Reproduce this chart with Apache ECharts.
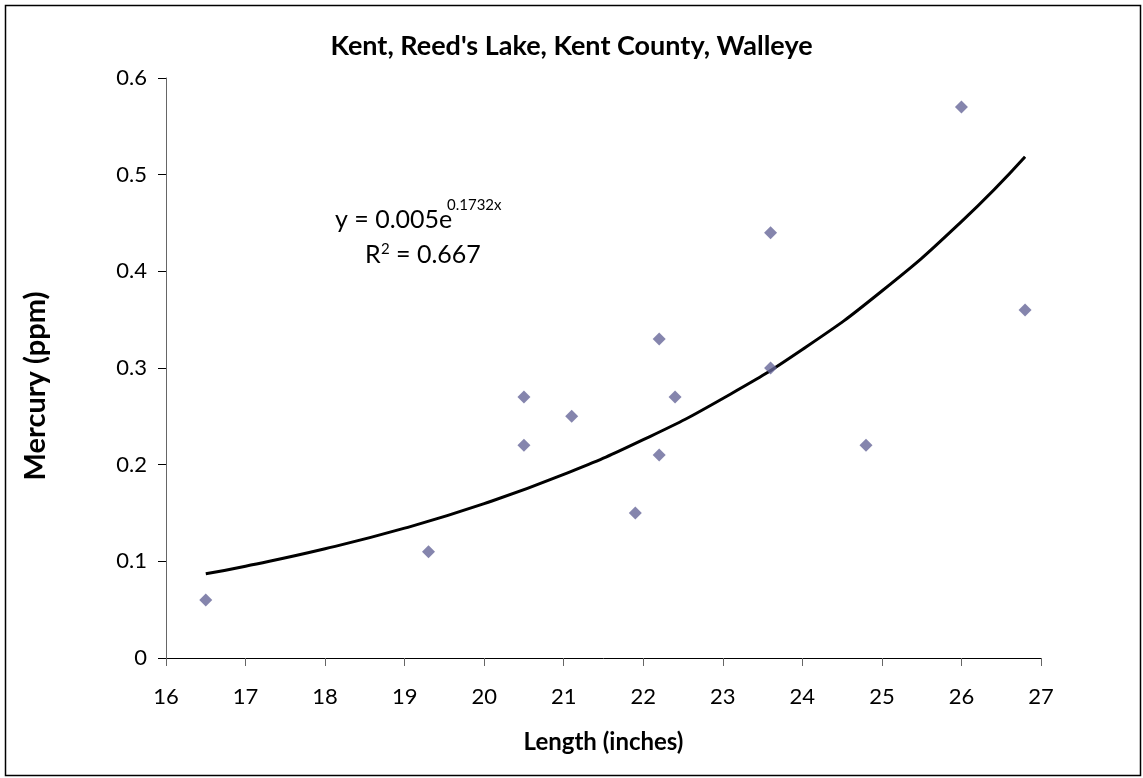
<!DOCTYPE html>
<html>
<head>
<meta charset="utf-8">
<script src="https://cdn.jsdelivr.net/npm/echarts@6/dist/echarts.min.js"></script>
<style>
html,body{margin:0;padding:0;background:#fff;}
#chart{width:1143px;height:778px;}
</style>
</head>
<body>
<div id="chart"></div>
<script>
const titleText = "Kent, Reed's Lake, Kent County, Walleye";
const xAxisName = "Length (inches)";
const yAxisName = "Mercury (ppm)";
const lengths = [16.5, 19.3, 20.5, 20.5, 21.1, 21.9, 22.2, 22.2, 22.4, 23.6, 23.6, 24.8, 26.0, 26.8];
const mercury = [0.06, 0.11, 0.27, 0.22, 0.25, 0.15, 0.33, 0.21, 0.27, 0.44, 0.30, 0.22, 0.57, 0.36];
// trendline values read along the fitted curve y = 0.005e^(0.1732x)
const trendX = [16.5, 17, 18, 19, 20, 21, 22, 23, 24, 25, 26, 26.8];
const trendY = [0.0871, 0.0950, 0.1130, 0.1343, 0.1597, 0.1899, 0.2258, 0.2685, 0.3192, 0.3797, 0.4515, 0.5186];
const xTicks = [16, 17, 18, 19, 20, 21, 22, 23, 24, 25, 26, 27];
const yTicks = [0, 0.1, 0.2, 0.3, 0.4, 0.5, 0.6];
const eqMain = "y = 0.005e";
const eqSup = "0.1732x";
const r2Base = "R";
const r2Sup = "2";
const r2Rest = "= 0.667";

const font = 'Lato, "Open Sans", sans-serif';
const chart = echarts.init(document.getElementById('chart'));
const txt = (x, y, text, size, align) => ({
  type: 'text', x: x, y: y, silent: true,
  style: {text: text, fontFamily: font, fontSize: size, fill: '#000', align: 'left', verticalAlign: align}
});
chart.setOption({
  animation: false,
  backgroundColor: '#fff',
  title: {
    text: titleText, left: 'center', top: 28,
    textStyle: {fontFamily: font, fontSize: 27, fontWeight: 'bold', color: '#000'}
  },
  grid: {left: 166, right: 102, top: 78, bottom: 120},
  xAxis: {
    type: 'value', min: xTicks[0], max: xTicks[xTicks.length - 1], interval: 1,
    name: xAxisName, nameLocation: 'middle', nameGap: 72,
    nameTextStyle: {fontFamily: font, fontSize: 24, fontWeight: 'bold', color: '#000'},
    axisLine: {show: true, onZero: false, lineStyle: {color: '#000', width: 1}},
    axisTick: {show: true, inside: false, length: 8, lineStyle: {color: '#666'}},
    axisLabel: {fontFamily: font, fontSize: 22, color: '#000', margin: 28},
    splitLine: {show: false}
  },
  yAxis: {
    type: 'value', min: yTicks[0], max: yTicks[yTicks.length - 1], interval: 0.1,
    axisLine: {show: true, onZero: false, lineStyle: {color: '#666', width: 1}},
    axisTick: {show: true, inside: false, length: 8, lineStyle: {color: '#000'}},
    axisLabel: {fontFamily: font, fontSize: 22, color: '#000', margin: 19},
    splitLine: {show: false}
  },
  series: [
    {
      type: 'line', smooth: true, showSymbol: false, silent: true,
      data: trendX.map((x, i) => [x, trendY[i]]),
      lineStyle: {color: '#000', width: 3}, z: 2
    },
    {
      type: 'scatter', symbol: 'diamond', symbolSize: 13,
      data: lengths.map((x, i) => [x, mercury[i]]),
      itemStyle: {color: '#666699'}, z: 3
    }
  ],
  graphic: [
    {type: 'rect', shape: {x: 5.5, y: 5.5, width: 1135, height: 770},
     style: {fill: null, stroke: '#000', lineWidth: 1.5}, silent: true, z: -1},
    {type: 'text', x: 36, y: 386, rotation: Math.PI / 2, silent: true,
     style: {text: yAxisName, fontFamily: font, fontSize: 29, fontWeight: 'bold', fill: '#000',
             align: 'center', verticalAlign: 'middle'}},
    txt(335, 232, eqMain, 25, 'bottom'),
    txt(447, 198, eqSup, 15, 'top'),
    txt(365, 267, r2Base, 25, 'bottom'),
    txt(381, 242, r2Sup, 15, 'top'),
    txt(396, 267, r2Rest, 25, 'bottom')
  ]
});
</script>
</body>
</html>
